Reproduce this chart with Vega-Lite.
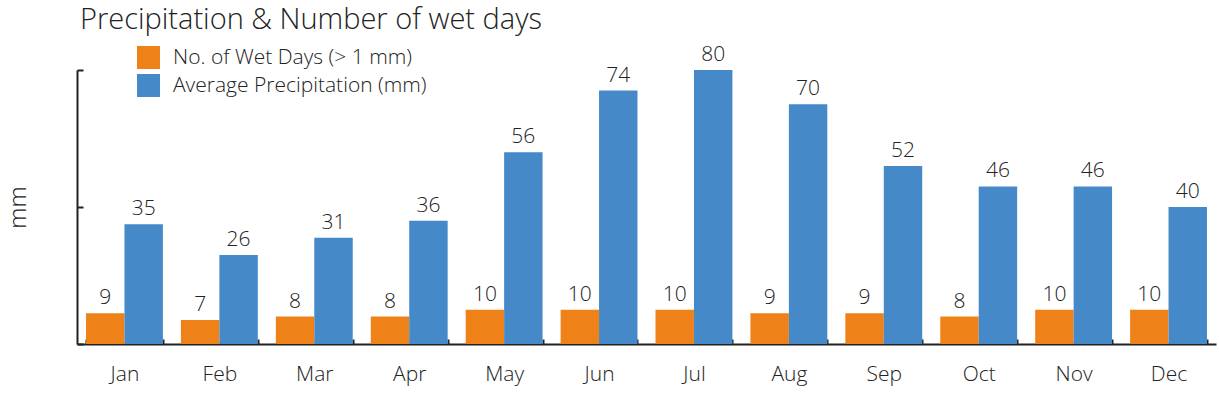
{
  "$schema": "https://vega.github.io/schema/vega-lite/v6.json",
  "width": 1139,
  "height": 274,
  "autosize": "none",
  "padding": {"left": 77, "top": 70, "right": 3, "bottom": 54},
  "background": "white",
  "config": {
    "view": {"stroke": null},
    "font": "Open Sans",
    "title": {"font": "Open Sans", "fontWeight": 300, "fontSize": 29, "color": "#222"}
  },
  "title": {
    "text": "Precipitation & Number of wet days",
    "anchor": "start",
    "frame": "group",
    "baseline": "alphabetic",
    "dx": 3,
    "offset": -14
  },
  "data": {
    "values": [
      {"month": "Jan", "series": "No. of Wet Days (> 1 mm)", "value": 9},
      {"month": "Feb", "series": "No. of Wet Days (> 1 mm)", "value": 7},
      {"month": "Mar", "series": "No. of Wet Days (> 1 mm)", "value": 8},
      {"month": "Apr", "series": "No. of Wet Days (> 1 mm)", "value": 8},
      {"month": "May", "series": "No. of Wet Days (> 1 mm)", "value": 10},
      {"month": "Jun", "series": "No. of Wet Days (> 1 mm)", "value": 10},
      {"month": "Jul", "series": "No. of Wet Days (> 1 mm)", "value": 10},
      {"month": "Aug", "series": "No. of Wet Days (> 1 mm)", "value": 9},
      {"month": "Sep", "series": "No. of Wet Days (> 1 mm)", "value": 9},
      {"month": "Oct", "series": "No. of Wet Days (> 1 mm)", "value": 8},
      {"month": "Nov", "series": "No. of Wet Days (> 1 mm)", "value": 10},
      {"month": "Dec", "series": "No. of Wet Days (> 1 mm)", "value": 10},
      {"month": "Jan", "series": "Average Precipitation (mm)", "value": 35},
      {"month": "Feb", "series": "Average Precipitation (mm)", "value": 26},
      {"month": "Mar", "series": "Average Precipitation (mm)", "value": 31},
      {"month": "Apr", "series": "Average Precipitation (mm)", "value": 36},
      {"month": "May", "series": "Average Precipitation (mm)", "value": 56},
      {"month": "Jun", "series": "Average Precipitation (mm)", "value": 74},
      {"month": "Jul", "series": "Average Precipitation (mm)", "value": 80},
      {"month": "Aug", "series": "Average Precipitation (mm)", "value": 70},
      {"month": "Sep", "series": "Average Precipitation (mm)", "value": 52},
      {"month": "Oct", "series": "Average Precipitation (mm)", "value": 46},
      {"month": "Nov", "series": "Average Precipitation (mm)", "value": 46},
      {"month": "Dec", "series": "Average Precipitation (mm)", "value": 40}
    ]
  },
  "encoding": {
    "x": {
      "field": "month",
      "type": "nominal",
      "sort": ["Jan","Feb","Mar","Apr","May","Jun","Jul","Aug","Sep","Oct","Nov","Dec"],
      "scale": {"paddingInner": 0.19, "paddingOuter": 0.095},
      "axis": {
        "title": null,
        "labelAngle": 0,
        "labelFont": "Open Sans",
        "labelFontWeight": 300,
        "labelFontSize": 21,
        "labelColor": "#222",
        "labelBaseline": "alphabetic",
        "labelPadding": 41,
        "tickBand": "extent",
        "tickSize": -5,
        "tickWidth": 2,
        "tickColor": "#222",
        "domainColor": "#222",
        "domainWidth": 2
      }
    },
    "xOffset": {
      "field": "series",
      "type": "nominal",
      "scale": {"domain": ["No. of Wet Days (> 1 mm)", "Average Precipitation (mm)"], "paddingInner": 0, "paddingOuter": 0}
    },
    "y": {
      "field": "value",
      "type": "quantitative",
      "scale": {"domain": [0, 80], "nice": false, "zero": true},
      "axis": {
        "title": "mm",
        "values": [0, 40, 80],
        "labels": false,
        "grid": false,
        "tickSize": -6,
        "tickWidth": 2,
        "tickColor": "#222",
        "domainColor": "#222",
        "domainWidth": 2,
        "titleFont": "Open Sans",
        "titleFontWeight": 300,
        "titleFontSize": 24,
        "titleColor": "#222",
        "titleX": -59,
        "titleY": 137,
        "titleAlign": "center",
        "titleBaseline": "middle",
        "titleAngle": -90
      }
    }
  },
  "layer": [
    {
      "mark": {"type": "bar", "strokeWidth": 0},
      "encoding": {
        "color": {
          "field": "series",
          "type": "nominal",
          "scale": {"domain": ["No. of Wet Days (> 1 mm)", "Average Precipitation (mm)"], "range": ["#EF8119", "#4589C8"]},
          "legend": {
            "title": null,
            "orient": "none",
            "legendX": 60,
            "legendY": -24,
            "symbolType": "square",
            "symbolSize": 529,
            "symbolStrokeWidth": 0,
            "symbolOpacity": 1,
            "labelFont": "Open Sans",
            "labelFontWeight": 300,
            "labelFontSize": 21,
            "labelColor": "#222",
            "labelOffset": 13,
            "rowPadding": 5,
            "labelLimit": 400
          }
        }
      }
    },
    {
      "mark": {"type": "text", "baseline": "alphabetic", "dy": -9, "font": "Open Sans", "fontWeight": 300, "fontSize": 21, "color": "#222"},
      "encoding": {"text": {"field": "value", "type": "quantitative"}}
    }
  ]
}
